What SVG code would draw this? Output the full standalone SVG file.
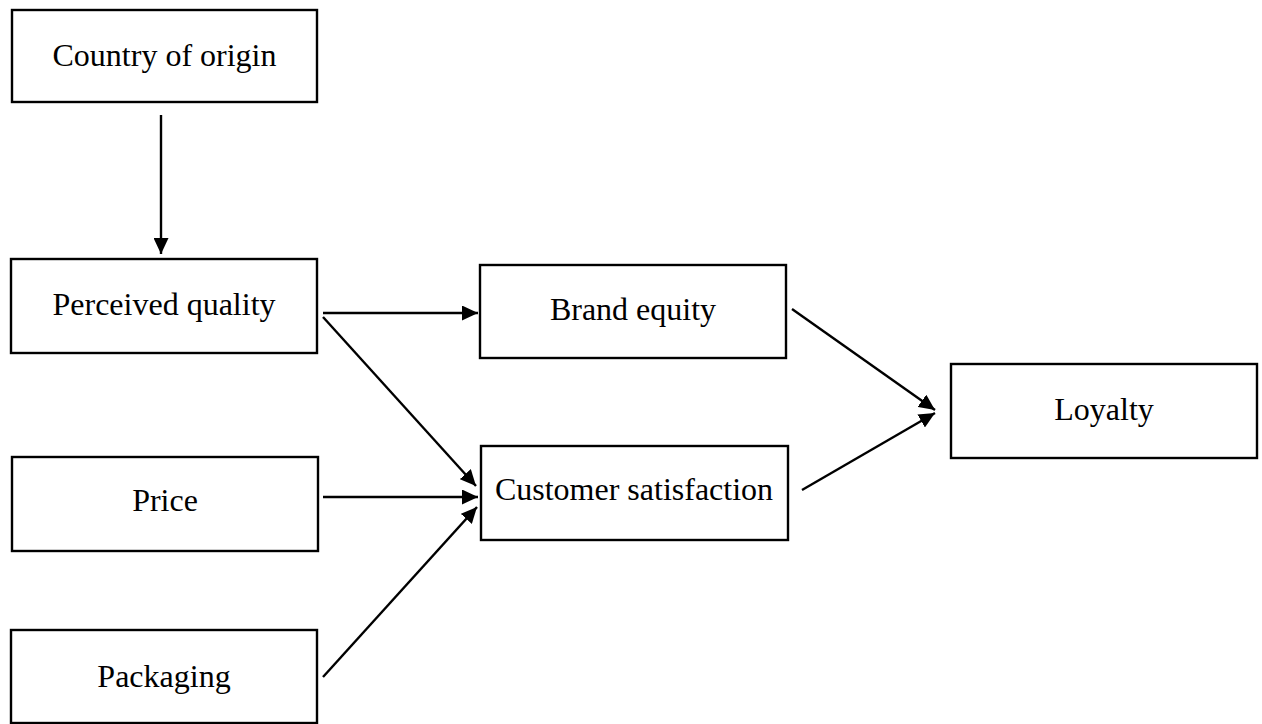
<svg xmlns="http://www.w3.org/2000/svg" width="1262" height="724" viewBox="0 0 1262 724">
  <style>
    .box { fill: #ffffff; stroke: #000000; stroke-width: 2.4; }
    .label { font-family: "Liberation Serif", "Times New Roman", serif; font-size: 32px; fill: #000000; text-anchor: middle; }
    .link { fill: none; stroke: #000000; stroke-width: 2.4; marker-end: url(#arrow); }
  </style>
  <defs>
    <marker id="arrow" viewBox="0 0 16 15" refX="16" refY="7.5" markerWidth="16" markerHeight="15" markerUnits="userSpaceOnUse" orient="auto">
      <path d="M0,0 L16,7.5 L0,15 Z" fill="#000000"/>
    </marker>
  </defs>
  <rect width="1262" height="724" fill="#ffffff"/>

  <g id="connectors">
    <line class="link" x1="161" y1="115" x2="161" y2="254"/>
    <line class="link" x1="323" y1="313" x2="478" y2="313"/>
    <line class="link" x1="323" y1="317" x2="476" y2="486"/>
    <line class="link" x1="323" y1="497" x2="478" y2="497"/>
    <line class="link" x1="323" y1="677" x2="477" y2="507"/>
    <line class="link" x1="792" y1="309" x2="935" y2="410"/>
    <line class="link" x1="802" y1="490" x2="935" y2="413"/>
  </g>

  <g id="country-of-origin">
    <rect class="box" x="12" y="10" width="305" height="92"/>
    <text class="label" x="164.5" y="66">Country of origin</text>
  </g>
  <g id="perceived-quality">
    <rect class="box" x="11" y="259" width="306" height="94"/>
    <text class="label" x="164" y="315">Perceived quality</text>
  </g>
  <g id="price">
    <rect class="box" x="12" y="457" width="306" height="94"/>
    <text class="label" x="165" y="511">Price</text>
  </g>
  <g id="packaging">
    <rect class="box" x="11" y="630" width="306" height="93"/>
    <text class="label" x="164" y="687">Packaging</text>
  </g>
  <g id="brand-equity">
    <rect class="box" x="480" y="265" width="306" height="93"/>
    <text class="label" x="633" y="320">Brand equity</text>
  </g>
  <g id="customer-satisfaction">
    <rect class="box" x="481" y="446" width="307" height="94"/>
    <text class="label" x="634" y="500">Customer satisfaction</text>
  </g>
  <g id="loyalty">
    <rect class="box" x="951" y="364" width="306" height="94"/>
    <text class="label" x="1104" y="420">Loyalty</text>
  </g>
</svg>
